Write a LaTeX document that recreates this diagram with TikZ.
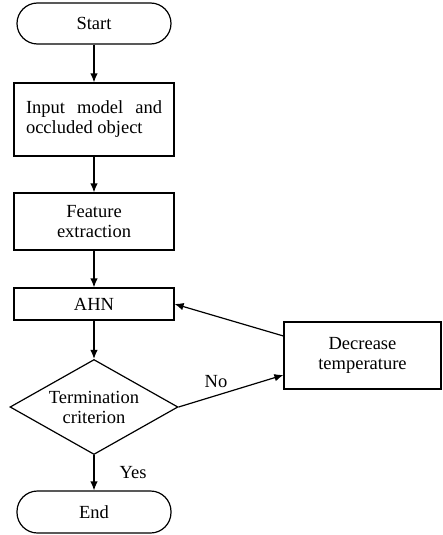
\documentclass[tikz,border=0pt]{standalone}
\usepackage{fontspec}
\setmainfont{Liberation Serif}
\usetikzlibrary{arrows.meta,shapes.geometric}
\begin{document}
\begin{tikzpicture}[x=1pt,y=-1pt,
  every node/.style={font=\fontsize{18.5}{20}\selectfont},
  box/.style={draw,line width=1.2pt,rectangle,inner sep=0pt,minimum width=160pt},
  term/.style={draw,line width=1.2pt,rectangle,rounded corners=20.5pt,minimum width=154pt,minimum height=41pt,inner sep=0pt},
  dec/.style={draw,line width=1.2pt,diamond,aspect=1.77,minimum width=168pt,minimum height=95pt,inner sep=0pt},
  arr/.style={line width=1.2pt,-{Latex[length=9pt,width=7.5pt]}},
  lab/.style={anchor=base,inner sep=0pt}]
\useasboundingbox (0,0) rectangle (442,535);
\node[term] (start) at (94,23.5) {Start};
\node[box,minimum height=73pt,text width=136pt,align=justify] (input) at (94,119.5) {Input model and occluded object};
\node[box,minimum height=57pt,align=center] (feat) at (94,221.5) {Feature\\extraction};
\node[box,minimum height=32pt] (ahn) at (94,304) {AHN};
\node[dec,align=center] (crit) at (94,407) {Termination\\criterion};
\node[term,minimum height=42pt] (end) at (94,512) {End};
\node[box,minimum width=157pt,minimum height=67pt,align=center] (temp) at (362.5,355.5) {Decrease\\temperature};
\draw[arr] (start) -- (input);
\draw[arr] (input) -- (feat);
\draw[arr] (feat) -- (ahn);
\draw[arr] (ahn) -- (crit);
\draw[arr] (crit) -- (end);
\draw[arr] (crit.east) -- ([yshift=-19.5pt]temp.west);
\draw[arr] ([yshift=19.5pt]temp.west) -- (ahn.east);
\node[lab] (no) at (216,387) {No};
\node[lab] (yes) at (133,478) {Yes};
\end{tikzpicture}
\end{document}
